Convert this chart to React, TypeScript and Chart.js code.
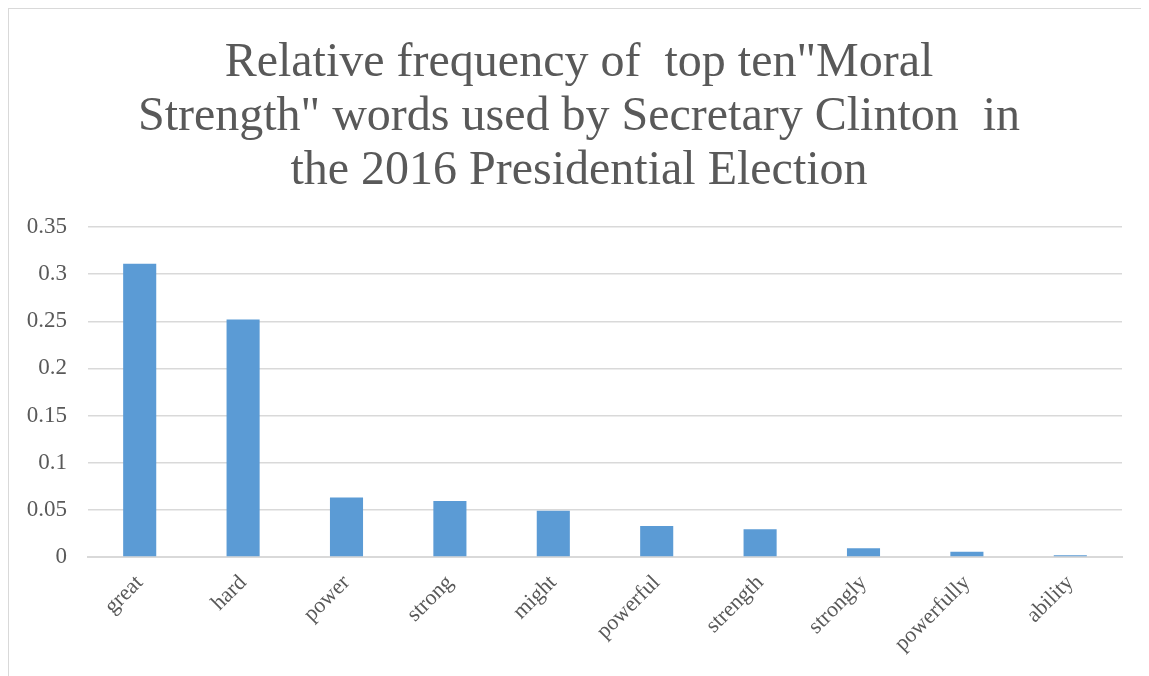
import React, { useEffect, useRef } from "react";
import { Chart, registerables } from "chart.js";

Chart.register(...registerables);

// Top ten "Moral Strength" words and their relative frequency
const words = [
  "great",
  "hard",
  "power",
  "strong",
  "might",
  "powerful",
  "strength",
  "strongly",
  "powerfully",
  "ability",
];
const frequency = [0.311, 0.252, 0.063, 0.0595, 0.049, 0.033, 0.0295, 0.0093, 0.0057, 0.0018];

const titleLines = [
  'Relative frequency of  top ten"Moral',
  'Strength" words used by Secretary Clinton  in',
  "the 2016 Presidential Election",
];

const yTicks = [0, 0.05, 0.1, 0.15, 0.2, 0.25, 0.3, 0.35];

const SERIF = "'Liberation Serif', 'Times New Roman', serif";
const TEXT = "#595959";
const GRID = "#d9d9d9";
const BAR = "#5b9bd5";

export default function App() {
  const canvasRef = useRef<HTMLCanvasElement | null>(null);

  useEffect(() => {
    document.body.style.overflow = "hidden";
    const canvas = canvasRef.current;
    if (!canvas) return;
    const chart = new Chart(canvas, {
      type: "bar",
      data: {
        labels: words,
        datasets: [
          {
            data: frequency,
            backgroundColor: BAR,
            borderWidth: 0,
            barPercentage: 0.32,
            categoryPercentage: 1,
          },
        ],
      },
      options: {
        animation: false,
        responsive: false,
        maintainAspectRatio: false,
        layout: { padding: 0 },
        plugins: {
          legend: { display: false },
          tooltip: { enabled: false },
          title: {
            display: true,
            text: titleLines,
            color: TEXT,
            font: { family: SERIF, size: 48, weight: "normal", lineHeight: 1.125 },
            padding: { top: 27, bottom: 29 },
          },
        },
        scales: {
          x: {
            grid: { display: false, drawTicks: false },
            border: { display: true, color: GRID, width: 2 },
            ticks: {
              color: TEXT,
              font: { family: SERIF, size: 22 },
              minRotation: 45,
              maxRotation: 45,
              padding: 13,
              autoSkip: false,
            },
            afterFit: (scale: any) => {
              scale.height = 119;
            },
          },
          y: {
            min: 0,
            max: 0.35,
            afterBuildTicks: (scale: any) => {
              scale.ticks = yTicks.map((v) => ({ value: v }));
            },
            grid: { color: GRID, lineWidth: 1.5, drawTicks: false },
            border: { display: false },
            ticks: {
              color: TEXT,
              font: { family: SERIF, size: 23 },
              padding: 21,
              callback: (v: any) => String(Number(v)),
            },
            afterFit: (scale: any) => {
              scale.width = 79;
            },
          },
          // blank margin on the right of the plot, keeps the title centred on the canvas
          yRight: {
            position: "right",
            display: true,
            grid: { display: false, drawTicks: false },
            border: { display: false },
            ticks: { display: false },
            afterFit: (scale: any) => {
              scale.width = 27;
            },
          },
        },
      },
    });
    return () => chart.destroy();
  }, []);

  return (
    <div
      style={{
        width: 1141,
        height: 667,
        borderTop: `1px solid ${GRID}`,
        borderLeft: `1px solid ${GRID}`,
        background: "#fff",
      }}
    >
      <canvas ref={canvasRef} width={1140} height={667} style={{ display: "block" }} />
    </div>
  );
}
